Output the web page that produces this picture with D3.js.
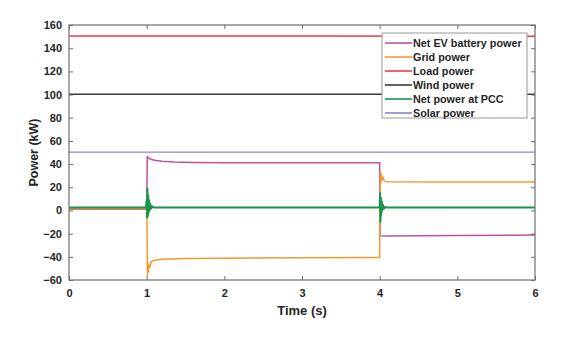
<!DOCTYPE html>
<html>
<head>
<meta charset="utf-8">
<script src="https://cdn.jsdelivr.net/npm/d3@7"></script>
<style>
  html, body { margin: 0; padding: 0; background: #fff; }
  svg { display: block; font-family: "Liberation Sans", Arial, sans-serif; }
</style>
</head>
<body>
<svg id="chart" width="563" height="340"></svg>
<script>
// Power flows in the microgrid, time in seconds, power in kW
const xTicks = [0, 1, 2, 3, 4, 5, 6];
const yTicks = [-60, -40, -20, 0, 20, 40, 60, 80, 100, 120, 140, 160];

const seriesNames = ["Net EV battery power", "Grid power", "Load power", "Wind power", "Net power at PCC", "Solar power"];
const seriesColors = ["#c2519f", "#f39a2c", "#ee3b4b", "#3a3a3a", "#17934a", "#8a86cc"];

const evBattery = [
  [0, 1], [1.0, 1], [1.008, 46.5], [1.03, 45], [1.06, 44], [1.1, 43.3], [1.2, 42.4],
  [1.35, 41.8], [1.6, 41.4], [2, 41.2], [3, 41.2], [4.0, 41.2], [4.006, -21.8],
  [4.1, -22], [5, -21.7], [6, -21.2]
];
const grid = [
  [0, 1.5], [1.0, 1.5], [1.004, -12], [1.01, -56], [1.016, -46], [1.022, -53], [1.03, -47],
  [1.04, -49], [1.06, -44], [1.1, -43], [1.2, -42], [1.5, -41.5], [2, -41.2], [3, -40.8],
  [3.9, -40.5], [4.0, -40.5], [4.004, 10], [4.01, 33], [4.016, 24], [4.022, 31],
  [4.03, 26], [4.04, 29], [4.06, 25.5], [4.1, 24.8], [5, 24.6], [6, 24.5]
];
const load = [[0, 150.5], [3, 150.5], [6, 150.3]];
const wind = [[0, 100.3], [3, 100.3], [6, 100.3]];
const pcc = [
  [0, 2.5], [0.99, 2.5], [1.0, 9], [1.005, -6], [1.01, 19], [1.015, -5], [1.02, 13],
  [1.025, -2], [1.03, 9], [1.037, 0], [1.045, 6], [1.055, 1.5], [1.07, 3.5], [1.09, 2.5],
  [4.0, 2.5], [4.005, 15], [4.01, -10], [4.015, 11], [4.02, -4], [4.026, 8], [4.033, 0],
  [4.042, 5], [4.055, 1.5], [4.07, 3], [4.09, 2.5], [6, 2.5]
];
const solar = [[0, 50.3], [3, 50.3], [6, 50.3]];

// drawing order: bottom to top
const drawOrder = [
  { data: solar, idx: 5, w: 1.3 },
  { data: wind, idx: 3, w: 1.5 },
  { data: load, idx: 2, w: 1.5 },
  { data: evBattery, idx: 0, w: 1.5 },
  { data: grid, idx: 1, w: 1.5 },
  { data: pcc, idx: 4, w: 2 }
];

const svg = d3.select("#chart");
const margin = { left: 69, right: 563 - 535, top: 25, bottom: 340 - 280 };
const W = 563 - margin.left - margin.right;
const H = 340 - margin.top - margin.bottom;

const x = d3.scaleLinear().domain([0, 6]).range([margin.left, margin.left + W]);
const y = d3.scaleLinear().domain([-60, 160]).range([margin.top + H, margin.top]);

const frameColor = "#6e6e6e";
const textColor = "#262626";

// clip for the plot area
svg.append("defs").append("clipPath").attr("id", "plotclip")
  .append("rect").attr("x", margin.left).attr("y", margin.top).attr("width", W).attr("height", H);

const line = d3.line().x(d => x(d[0])).y(d => y(d[1]));

const plot = svg.append("g").attr("clip-path", "url(#plotclip)");
drawOrder.forEach(s => {
  plot.append("path")
    .datum(s.data)
    .attr("d", line)
    .attr("fill", "none")
    .attr("stroke", seriesColors[s.idx])
    .attr("stroke-width", s.w)
    .attr("stroke-linejoin", "round");
});

// axes with inward ticks, Matlab-style box
function styleAxis(g) {
  g.select(".domain").remove();
  g.selectAll(".tick line").attr("stroke", frameColor);
  g.selectAll(".tick text")
    .attr("fill", textColor)
    .attr("font-size", 11)
    .attr("font-weight", "bold");
}

svg.append("g")
  .attr("transform", `translate(0,${margin.top + H})`)
  .call(d3.axisBottom(x).tickValues(xTicks).tickFormat(d3.format("d")).tickSizeInner(-4).tickPadding(9))
  .call(styleAxis);
svg.append("g")
  .attr("transform", `translate(0,${margin.top})`)
  .call(d3.axisTop(x).tickValues(xTicks).tickFormat("").tickSizeInner(-4))
  .call(styleAxis);
svg.append("g")
  .attr("transform", `translate(${margin.left},0)`)
  .call(d3.axisLeft(y).tickValues(yTicks).tickFormat(d3.format("d")).tickSizeInner(-4).tickPadding(7))
  .call(styleAxis);
svg.append("g")
  .attr("transform", `translate(${margin.left + W},0)`)
  .call(d3.axisRight(y).tickValues(yTicks).tickFormat("").tickSizeInner(-4))
  .call(styleAxis);

svg.append("rect")
  .attr("x", margin.left).attr("y", margin.top).attr("width", W).attr("height", H)
  .attr("fill", "none").attr("stroke", frameColor).attr("stroke-width", 1.2);

// axis titles
svg.append("text")
  .attr("x", x(3)).attr("y", 315)
  .attr("text-anchor", "middle")
  .attr("font-size", 13).attr("font-weight", "bold").attr("fill", textColor)
  .text("Time (s)");
svg.append("text")
  .attr("transform", `translate(38,${margin.top + H / 2}) rotate(-90)`)
  .attr("text-anchor", "middle")
  .attr("font-size", 12.5).attr("font-weight", "bold").attr("fill", textColor)
  .text("Power (kW)");

// legend
const lg = svg.append("g").attr("transform", "translate(382,33)");
lg.append("rect").attr("width", 145).attr("height", 85)
  .attr("fill", "#fff").attr("stroke", "#9a9a9a").attr("stroke-width", 1);
seriesNames.forEach((name, i) => {
  const yy = 10 + i * 14;
  lg.append("line").attr("x1", 3).attr("x2", 30).attr("y1", yy).attr("y2", yy)
    .attr("stroke", seriesColors[i]).attr("stroke-width", 1.6);
  lg.append("text").attr("x", 31).attr("y", yy + 3.8)
    .attr("font-size", 10.8).attr("font-weight", "bold").attr("fill", textColor)
    .text(name);
});
</script>
</body>
</html>
